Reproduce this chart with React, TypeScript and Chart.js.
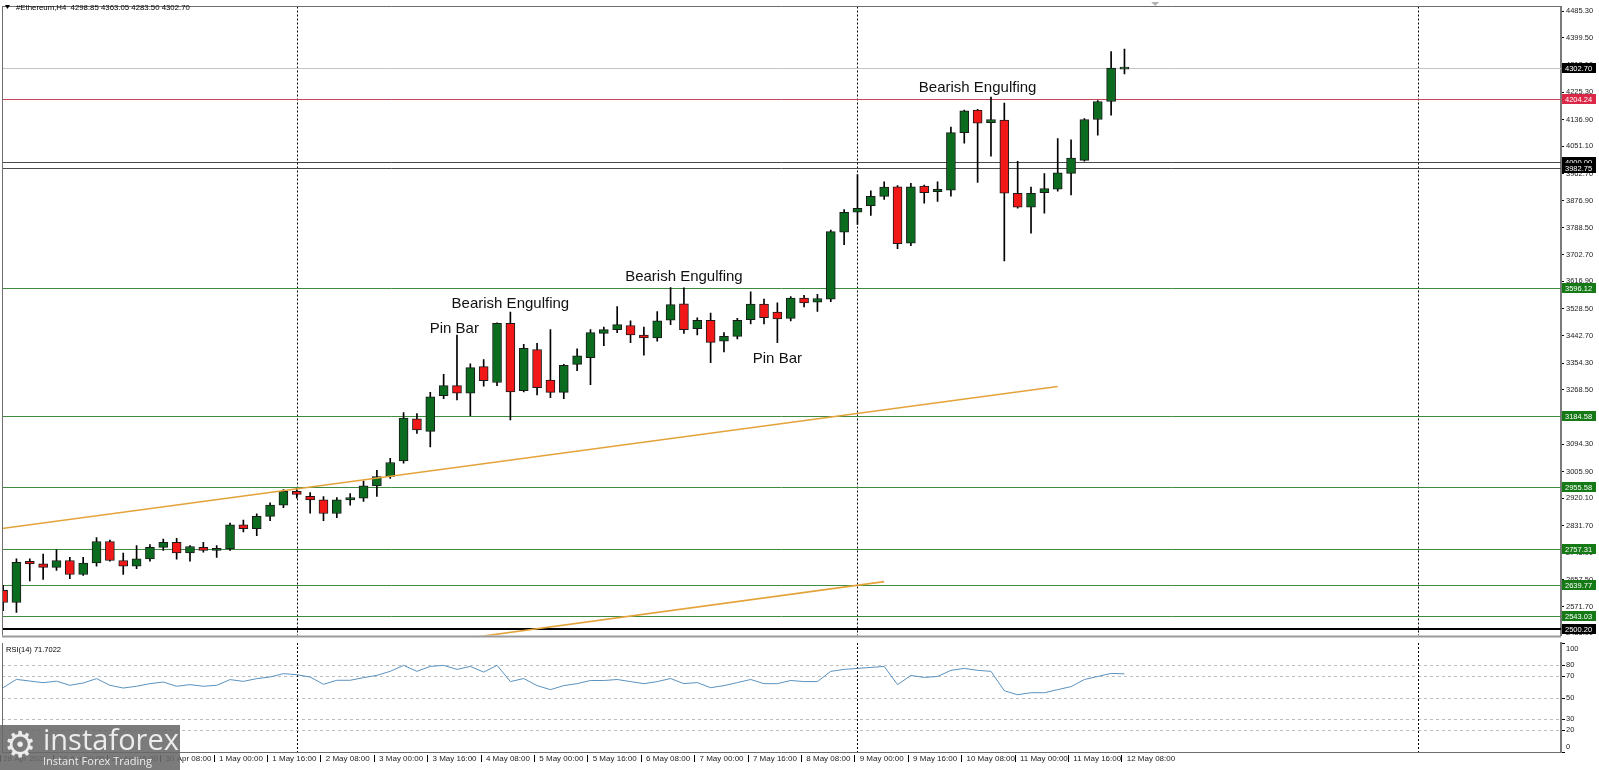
import React, { useEffect, useRef } from "react";
import { Chart, registerables } from "chart.js";
Chart.register(...registerables);

// ---------- data ----------
const opens = [2624, 2585, 2717, 2709, 2698, 2720, 2675, 2712, 2781, 2720, 2702, 2725, 2762, 2778, 2744, 2762, 2752, 2757, 2835, 2822, 2862, 2898, 2942, 2926, 2915, 2871, 2915, 2920, 2960, 2990, 3040, 3175, 3135, 3250, 3282, 3258, 3343, 3292, 3482, 3266, 3398, 3300, 3260, 3350, 3372, 3450, 3462, 3475, 3444, 3435, 3492, 3545, 3465, 3492, 3425, 3440, 3494, 3544, 3518, 3498, 3563, 3550, 3560, 3775, 3839, 3860, 3890, 3921, 3740, 3923, 3905, 3910, 4095, 4167, 4127, 4135, 3900, 3855, 3902, 3913, 3964, 4006, 4137, 4195, 4298.85];
const highs = [2640, 2725, 2725, 2741, 2754, 2730, 2730, 2794, 2786, 2744, 2768, 2771, 2789, 2791, 2768, 2778, 2768, 2840, 2850, 2870, 2905, 2948, 2952, 2938, 2925, 2922, 2935, 2975, 3010, 3048, 3195, 3192, 3260, 3318, 3444, 3352, 3366, 3484, 3518, 3415, 3418, 3462, 3350, 3400, 3462, 3470, 3536, 3490, 3470, 3520, 3597, 3596, 3500, 3515, 3452, 3498, 3583, 3560, 3548, 3568, 3572, 3575, 3782, 3848, 3960, 3908, 3937, 3925, 3932, 3926, 3937, 4113, 4167, 4170, 4209, 4190, 4003, 3920, 3963, 4076, 4072, 4140, 4198, 4355, 4363.05];
const lows = [2559, 2553, 2654, 2659, 2688, 2662, 2672, 2702, 2718, 2675, 2694, 2718, 2752, 2724, 2718, 2747, 2730, 2752, 2812, 2800, 2848, 2890, 2920, 2872, 2848, 2858, 2898, 2910, 2926, 2984, 3033, 3128, 3085, 3240, 3236, 3185, 3280, 3282, 3172, 3262, 3252, 3243, 3240, 3330, 3285, 3410, 3452, 3420, 3380, 3425, 3478, 3450, 3445, 3356, 3390, 3432, 3480, 3480, 3420, 3490, 3535, 3520, 3552, 3735, 3800, 3829, 3880, 3722, 3732, 3868, 3874, 3891, 4061, 3935, 4019, 3683, 3852, 3772, 3836, 3907, 3895, 4003, 4087, 4151, 4283.5];
const closes = [2585, 2714, 2709, 2698, 2720, 2675, 2712, 2781, 2720, 2702, 2725, 2762, 2778, 2744, 2765, 2752, 2759, 2835, 2822, 2862, 2898, 2942, 2932, 2915, 2871, 2915, 2922, 2960, 2990, 3035, 3178, 3140, 3246, 3282, 3258, 3340, 3298, 3482, 3262, 3402, 3275, 3260, 3347, 3378, 3452, 3462, 3478, 3445, 3435, 3490, 3542, 3462, 3492, 3421, 3440, 3492, 3544, 3500, 3496, 3563, 3548, 3562, 3777, 3839, 3852, 3890, 3920, 3738, 3921, 3902, 3913, 4095, 4165, 4125, 4137, 3900, 3855, 3900, 3915, 3966, 4013, 4137, 4195, 4302, 4302.7];
const rsiValues = [59, 66.6, 65.1, 63.6, 65, 61.2, 63.3, 67.3, 61.2, 58.7, 60.3, 62.7, 64.2, 60.3, 61.8, 60.3, 61.2, 66.4, 64.8, 67.3, 68.8, 71.9, 70.9, 68.8, 62.1, 65.8, 65.8, 68.2, 70.3, 74, 79.5, 74, 78.5, 79.5, 75.8, 78.5, 73.3, 79.5, 64.6, 67.4, 60.9, 57.2, 60.9, 62.7, 65.6, 65.6, 66.5, 64.6, 62.7, 64.6, 67.4, 62.7, 63.7, 59.0, 60.9, 63.7, 66.5, 62.7, 62.7, 65.6, 64.6, 64.6, 74, 75.8, 76.7, 77.6, 78.5, 61.8, 70.2, 68.4, 69.3, 74.9, 76.7, 74.9, 74, 56.2, 52.5, 54.4, 54.4, 57.2, 60, 66.5, 69.3, 72.1, 71.7022];

const priceTicks = [4485.3, 4399.5, 4313.1, 4225.3, 4136.9, 4051.1, 3962.7, 3876.9, 3788.5, 3702.7, 3616.9, 3528.5, 3442.7, 3354.3, 3268.5, 3180.7, 3094.3, 3005.9, 2920.1, 2831.7, 2745.9, 2657.5, 2571.7, 2485.9];
const rsiTicks = [100, 80, 70, 50, 30, 20, 0];
const rsiLevels = [80, 70, 50, 30, 20];

const levelPrices = [4302.7, 4204.24, 4000.0, 3982.75, 3596.12, 3184.58, 2955.58, 2757.31, 2639.77, 2543.03, 2500.2];
const levelKinds = ["price", "red", "black", "black", "green", "green", "green", "green", "green", "green", "support"];

const upperTrend = [{ x: -0.08, y: 2823 }, { x: 79.0, y: 3279 }];
const lowerTrend = [{ x: 33.0, y: 2460 }, { x: 66.0, y: 2652 }];

const noteTexts = ["Pin Bar", "Bearish Engulfing", "Bearish Engulfing", "Pin Bar", "Bearish Engulfing"];
const noteX = [33.8, 38.0, 51.0, 58.0, 73.0];
const noteY = [3465, 3546, 3630, 3369, 4240];

const SYMBOL = "#Ethereum,H4";
const START_MS = Date.UTC(2021, 3, 28, 8, 0);
const BAR_MS = 4 * 3600 * 1000;
const LABEL_STEP = 4;
const MONTHS = ["Jan", "Feb", "Mar", "Apr", "May", "Jun", "Jul", "Aug", "Sep", "Oct", "Nov", "Dec"];

// ---------- layout / style ----------
const X_MIN = -0.082;
const X_MAX = 116.7;
const PRICE_MIN = 2479.0;
const PRICE_MAX = 4500.2;
const AXIS_W = 38;
const FONT = '"Liberation Sans", Arial, sans-serif';
const BULL = "#0b6b1f";
const BEAR = "#f21818";
const TREND = "#e3a33a";

const levelStyle: Record<string, { line: string; w: number; box: string }> = {
  price: { line: "#c4c4c4", w: 1, box: "#000000" },
  red: { line: "#c4485a", w: 1, box: "#dc2848" },
  black: { line: "#4a4a4a", w: 1, box: "#000000" },
  green: { line: "#3f8a3f", w: 1, box: "#157a15" },
  support: { line: "#000000", w: 2, box: "#000000" },
};

function timeAt(i: number) {
  return new Date(START_MS + i * BAR_MS);
}
function timeLabel(i: number) {
  const d = timeAt(i);
  const day = d.getUTCDate();
  const mon = MONTHS[d.getUTCMonth()];
  if (i === 0) return `${day} ${mon} ${d.getUTCFullYear()}`;
  const hh = String(d.getUTCHours()).padStart(2, "0");
  return ` ${day} ${mon} ${hh}:00`;
}

const weekIdx = Array.from({ length: Math.floor(X_MAX) + 1 }, (_, i) => i).filter((i) => {
  const d = timeAt(i);
  return d.getUTCDay() === 0 && d.getUTCHours() === 0;
});
const labelIdx = closes.map((_, i) => i).filter((i) => i % LABEL_STEP === 0);

function hline(ctx: CanvasRenderingContext2D, x1: number, x2: number, y: number) {
  ctx.beginPath();
  ctx.moveTo(x1, y);
  ctx.lineTo(x2, y);
  ctx.stroke();
}
function vline(ctx: CanvasRenderingContext2D, x: number, y1: number, y2: number) {
  ctx.beginPath();
  ctx.moveTo(x, y1);
  ctx.lineTo(x, y2);
  ctx.stroke();
}

const mainPlugin = {
  id: "mainDeco",
  beforeDatasetsDraw(chart: any) {
    const { ctx, chartArea: a, scales } = chart;
    const x = scales.x, y = scales.y;
    ctx.save();
    ctx.beginPath();
    ctx.rect(a.left, a.top, a.right - a.left, a.bottom - a.top);
    ctx.clip();
    ctx.strokeStyle = "#000";
    ctx.lineWidth = 1;
    ctx.setLineDash([2, 2]);
    weekIdx.forEach((i) => {
      const px = Math.round(x.getPixelForValue(i)) + 0.5;
      vline(ctx, px, a.top, a.bottom);
    });
    ctx.setLineDash([]);
    levelPrices.forEach((p, k) => {
      const st = levelStyle[levelKinds[k]];
      ctx.strokeStyle = st.line;
      ctx.lineWidth = st.w;
      const py = st.w === 1 ? Math.round(y.getPixelForValue(p)) + 0.5 : Math.round(y.getPixelForValue(p));
      hline(ctx, a.left, a.right, py);
    });
    ctx.restore();
  },
  afterDatasetsDraw(chart: any) {
    const { ctx, scales } = chart;
    const x = scales.x, y = scales.y;
    ctx.save();
    ctx.font = `15px ${FONT}`;
    ctx.fillStyle = "#111";
    ctx.textAlign = "center";
    ctx.textBaseline = "middle";
    noteTexts.forEach((t, k) => {
      ctx.fillText(t, x.getPixelForValue(noteX[k]), y.getPixelForValue(noteY[k]));
    });
    ctx.restore();
  },
  afterDraw(chart: any) {
    const { ctx, chartArea: a, scales } = chart;
    const x = scales.x, y = scales.y;
    ctx.save();
    // frame
    ctx.strokeStyle = "#6e6e6e";
    ctx.lineWidth = 1;
    hline(ctx, a.left, a.right, Math.round(a.top) - 0.5);
    vline(ctx, Math.round(a.left) + 0.5, a.top, a.bottom);
    ctx.fillStyle = "#9a9a9a";
    ctx.fillRect(a.left, a.bottom, a.right - a.left, 2);
    // header
    const n = closes.length - 1;
    ctx.fillStyle = "#000";
    ctx.beginPath();
    ctx.moveTo(5, 5);
    ctx.lineTo(10, 5);
    ctx.lineTo(7.5, 9);
    ctx.closePath();
    ctx.fill();
    ctx.font = `7.8px ${FONT}`;
    ctx.textAlign = "left";
    ctx.textBaseline = "middle";
    ctx.fillText(
      `${SYMBOL}  ${opens[n].toFixed(2)} ${highs[n].toFixed(2)} ${lows[n].toFixed(2)} ${closes[n].toFixed(2)}`,
      16,
      7.5
    );
    // chart shift marker
    const sx = x.getPixelForValue(n + 2.3);
    ctx.fillStyle = "#b0b0b0";
    ctx.beginPath();
    ctx.moveTo(sx - 4, 2);
    ctx.lineTo(sx + 4, 2);
    ctx.lineTo(sx, 6);
    ctx.closePath();
    ctx.fill();
    // level labels on axis
    levelPrices.forEach((p, k) => {
      const st = levelStyle[levelKinds[k]];
      const py = y.getPixelForValue(p);
      ctx.fillStyle = st.box;
      ctx.fillRect(a.right + 1, Math.round(py) - 5, 34, 10);
      ctx.fillStyle = "#fff";
      ctx.font = `7.5px ${FONT}`;
      ctx.textBaseline = "middle";
      ctx.fillText(p.toFixed(2), a.right + 4, Math.round(py) + 0.5);
    });
    ctx.restore();
  },
};

const rsiPlugin = {
  id: "rsiDeco",
  beforeDatasetsDraw(chart: any) {
    const { ctx, chartArea: a, scales } = chart;
    const x = scales.x, y = scales.y;
    ctx.save();
    ctx.lineWidth = 1;
    ctx.strokeStyle = "#bdbdbd";
    ctx.setLineDash([3, 3]);
    rsiLevels.forEach((v) => {
      hline(ctx, a.left, a.right, Math.round(y.getPixelForValue(v)) + 0.5);
    });
    ctx.strokeStyle = "#000";
    ctx.setLineDash([2, 2]);
    weekIdx.forEach((i) => {
      const px = Math.round(x.getPixelForValue(i)) + 0.5;
      vline(ctx, px, a.top, a.bottom);
    });
    ctx.restore();
  },
  afterDraw(chart: any) {
    const { ctx, chartArea: a, scales } = chart;
    const x = scales.x, y = scales.y;
    ctx.save();
    ctx.strokeStyle = "#6e6e6e";
    ctx.lineWidth = 1;
    vline(ctx, Math.round(a.left) + 0.5, a.top, a.bottom);
    hline(ctx, a.left, a.right, Math.round(a.bottom) + 0.5);
    // rsi axis labels
    ctx.font = `7.5px ${FONT}`;
    ctx.fillStyle = "#222";
    ctx.textAlign = "left";
    ctx.textBaseline = "middle";
    ctx.strokeStyle = "#000";
    rsiTicks.forEach((v) => {
      const py = y.getPixelForValue(v);
      const ly = Math.min(Math.max(py, a.top + 6), a.bottom - 5);
      hline(ctx, a.right + 1, a.right + 4, Math.round(py) + 0.5);
      ctx.fillText(String(v), a.right + 5, ly);
    });
    // title
    ctx.fillStyle = "#000";
    ctx.fillText(`RSI(14) ${rsiValues[rsiValues.length - 1].toFixed(4)}`, 6, 8);
    // x tick marks
    ctx.strokeStyle = "#000";
    labelIdx.forEach((i) => {
      const px = Math.round(x.getPixelForValue(i)) - 2.5;
      vline(ctx, px, a.bottom + 3, a.bottom + 10);
    });
    ctx.restore();
  },
};

export default function App() {
  const mainRef = useRef<HTMLCanvasElement>(null);
  const rsiRef = useRef<HTMLCanvasElement>(null);

  useEffect(() => {
    Chart.defaults.font.family = FONT;
    const idx = closes.map((_, i) => i);
    const bodyData = idx.map((i) => ({ x: i, y: [opens[i], closes[i]] }));
    const wickData = idx.map((i) => ({ x: i, y: [lows[i], highs[i]] }));
    const bodyColors = idx.map((i) => (closes[i] >= opens[i] ? BULL : BEAR));

    const main = new Chart(mainRef.current as HTMLCanvasElement, {
      type: "bar",
      data: {
        datasets: [
          { type: "line", data: upperTrend, borderColor: TREND, borderWidth: 1.6, pointRadius: 0, order: -2 } as any,
          { type: "line", data: lowerTrend, borderColor: TREND, borderWidth: 1.6, pointRadius: 0, order: -1 } as any,
          {
            type: "bar",
            data: bodyData,
            backgroundColor: bodyColors,
            borderColor: "#1a1a1a",
            borderWidth: 1,
            borderSkipped: false,
            barThickness: 9,
            minBarLength: 2,
            grouped: false,
            order: 0,
          } as any,
          { type: "bar", data: wickData, backgroundColor: "#000", barThickness: 1, grouped: false, order: 1 } as any,
        ],
      },
      options: {
        responsive: false,
        animation: false,
        events: [],
        layout: { padding: { left: 2, top: 2, right: 0, bottom: 2 } },
        plugins: { legend: { display: false }, tooltip: { enabled: false }, title: { display: false } },
        scales: {
          x: { type: "linear", display: false, min: X_MIN, max: X_MAX, offset: false },
          y: {
            type: "linear",
            position: "right",
            min: PRICE_MIN,
            max: PRICE_MAX,
            afterFit: (s: any) => {
              s.width = AXIS_W;
            },
            afterBuildTicks: (s: any) => {
              s.ticks = priceTicks.map((v) => ({ value: v }));
            },
            ticks: {
              autoSkip: false,
              callback: (v: any) => Number(v).toFixed(2),
              font: { family: FONT, size: 7.5 },
              color: "#222",
              padding: 2,
            },
            grid: { drawOnChartArea: false, drawTicks: true, tickLength: 3, color: "#000" },
            border: { display: true, color: "#7a7a7a", width: 2 },
          },
        },
      } as any,
      plugins: [mainPlugin],
    });

    const rsi = new Chart(rsiRef.current as HTMLCanvasElement, {
      type: "line",
      data: {
        datasets: [
          {
            data: idx.map((i) => ({ x: i, y: rsiValues[i] })),
            borderColor: "#5a92bf",
            borderWidth: 1,
            pointRadius: 0,
            tension: 0,
          },
        ],
      },
      options: {
        responsive: false,
        animation: false,
        events: [],
        layout: { padding: { left: 2, top: 1, right: 0, bottom: 0 } },
        plugins: { legend: { display: false }, tooltip: { enabled: false }, title: { display: false } },
        scales: {
          x: {
            type: "linear",
            position: "bottom",
            min: X_MIN,
            max: X_MAX,
            offset: false,
            afterBuildTicks: (s: any) => {
              s.ticks = labelIdx.map((v) => ({ value: v }));
            },
            afterFit: (s: any) => {
              s.height = 18;
            },
            ticks: {
              autoSkip: false,
              maxRotation: 0,
              minRotation: 0,
              align: "start",
              padding: 2,
              callback: (v: any) => timeLabel(Number(v)),
              font: { family: FONT, size: 8 },
              color: "#222",
            },
            grid: { display: true, drawOnChartArea: false, drawTicks: false },
            border: { display: false },
          },
          y: {
            type: "linear",
            position: "right",
            min: 0,
            max: 100,
            afterFit: (s: any) => {
              s.width = AXIS_W;
            },
            ticks: { display: false },
            grid: { display: false },
            border: { display: true, color: "#7a7a7a", width: 2 },
          },
        },
      } as any,
      plugins: [rsiPlugin],
    });

    return () => {
      main.destroy();
      rsi.destroy();
    };
  }, []);

  return (
    <div style={{ position: "fixed", left: 0, top: 0, width: 1599, height: 770, background: "#fff", overflow: "hidden" }}>
      <canvas ref={mainRef} width={1599} height={642} style={{ position: "absolute", left: 0, top: 0 }} />
      <canvas ref={rsiRef} width={1599} height={128} style={{ position: "absolute", left: 0, top: 642 }} />
      <div
        style={{
          position: "absolute",
          left: 0,
          top: 725,
          width: 180,
          height: 45,
          background: "rgba(105,105,105,0.88)",
          overflow: "hidden",
          color: "#ececec",
        }}
      >
        <div style={{ position: "absolute", left: 4, top: 2, fontSize: 36, lineHeight: "36px", fontFamily: '"DejaVu Sans"' }}>⚙</div>
        <div style={{ position: "absolute", left: 43, top: -4, fontSize: 29, lineHeight: "36px", fontFamily: '"Open Sans"' }}>instaforex</div>
        <div style={{ position: "absolute", left: 43, top: 28.5, fontSize: 11, lineHeight: "14px", fontFamily: '"Open Sans"' }}>
          Instant Forex Trading
        </div>
      </div>
    </div>
  );
}
